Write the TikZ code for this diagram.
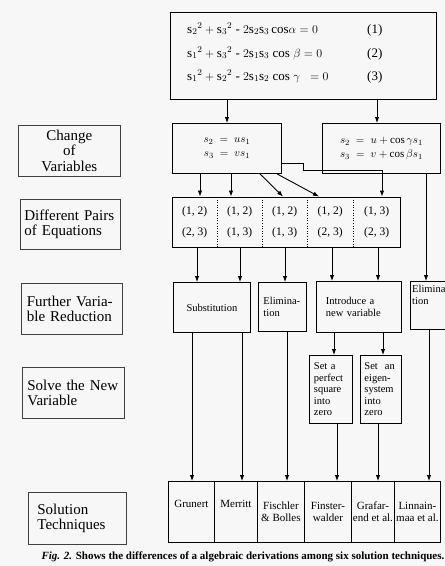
\documentclass[tikz,border=0pt]{standalone}
\usepackage{fontspec}
\setmainfont{Liberation Serif}
\usetikzlibrary{arrows.meta,fit,calc}
\begin{document}
\begin{tikzpicture}[x=1pt,y=-1pt,
  box/.style={draw, line width=0.9pt, inner sep=0pt, anchor=north west, align=center},
  lab/.style={draw=black!75, line width=0.8pt, inner sep=0pt, anchor=north west, align=left, font=\fontsize{15}{15.5}\selectfont},
  arr/.style={line width=0.9pt, -{Latex[length=6pt,width=4.5pt]}},
  ln/.style={line width=0.9pt},
  eq/.style={anchor=base west, inner sep=0pt, font=\fontsize{13}{14}\selectfont},
  pcell/.style={inner sep=0pt, anchor=north west, align=center, minimum height=50pt, font=\fontsize{11.5}{21}\selectfont},
  bcell/.style={box, minimum height=61pt, font=\fontsize{11}{12}\selectfont},
  small/.style={font=\fontsize{10.5}{12}\selectfont}
]
\fill[black!3] (0,0) rectangle (445,566);
\useasboundingbox (0,0) rectangle (445,566);
\clip (0,0) rectangle (445,566);

% top equations
\node[box, minimum width=266pt, minimum height=87pt] (top) at (170,12) {};
\node[eq] (e1) at (187,33) {$\mathrm{s}_2{}^2+\mathrm{s}_3{}^2$ - $2\mathrm{s}_2\mathrm{s}_3\,\mathrm{cos}\alpha = 0$};
\node[eq] (e2) at (187,57) {$\mathrm{s}_1{}^2+\mathrm{s}_3{}^2$ - $2\mathrm{s}_1\mathrm{s}_3\;\mathrm{cos}\;\beta = 0$};
\node[eq] (e3) at (187,80) {$\mathrm{s}_1{}^2+\mathrm{s}_2{}^2$ - $2\mathrm{s}_1\mathrm{s}_2\;\mathrm{cos}\;\gamma\;\; = 0$};
\node[eq] (n1) at (367,33) {(1)};
\node[eq] (n2) at (367,57) {(2)};
\node[eq] (n3) at (367,80) {(3)};

% change of variables
\node[box, minimum width=109pt, minimum height=50pt, font=\fontsize{11}{14}\selectfont] (mid) at (172,123) {$s_2\;=\;us_1$\\$s_3\;=\;vs_1$};
\node[box, minimum width=118pt, minimum height=50pt, font=\fontsize{11}{14}\selectfont] (rgt) at (322,123) {$s_2\;=\;u+\cos\gamma s_1$\\$s_3\;=\;v+\cos\beta s_1$\hspace{6pt}};
\draw[arr] (top.south -| 227,0) -- (mid.north -| 227,0);
\draw[arr] (top.south -| 377,0) -- (rgt.north -| 377,0);

% pairs
\node[pcell, minimum width=45pt] (c1) at (172,197) {(1, 2)\\(2, 3)};
\node[pcell, minimum width=45pt] (c2) at (217,197) {(1, 2)\\(1, 3)};
\node[pcell, minimum width=45pt] (c3) at (262,197) {(1, 2)\\(1, 3)};
\node[pcell, minimum width=46pt] (c4) at (307,197) {(1, 2)\\(2, 3)};
\node[pcell, minimum width=47pt] (c5) at (353,197) {(1, 3)\\(2, 3)};
\node[draw, line width=0.9pt, inner sep=0pt, fit=(c1)(c5)] (pairs) {};
\foreach \c in {c1,c2,c3,c4} \draw[dotted, line width=0.6pt] (\c.north east) -- (\c.south east);

\draw[arr] (mid.south -| 200,0) -- (pairs.north -| 200,0);
\draw[arr] (mid.south -| 231,0) -- (pairs.north -| 231,0);
\draw[arr] (mid.south -| 260,0) -- (pairs.north -| 283,0);
\draw[arr] (mid.south -| 277,0) -- (pairs.north -| 319,0);
\coordinate (k1) at (303,163);
\coordinate (k2) at (303,170);
\coordinate (k3) at (382,170);
\draw[arr] (mid.east |- k1) -- (k1) -- (k2) -- (k3) -- (pairs.north -| k3);

% further reduction
\node[box, minimum width=77pt, minimum height=50pt, small] (subst) at (173,282) {Substitution};
\node[box, minimum width=48pt, minimum height=49pt, small, align=left, text width=38pt] (elim1) at (258,282) {Elimina-\\tion};
\node[box, minimum width=85pt, minimum height=51pt, small, align=left, text width=66pt] (intro) at (316,281) {Introduce a\\new variable};
\node[draw, line width=0.9pt, inner sep=0pt, anchor=north west, minimum width=45pt, minimum height=48pt] (elim2) at (410,281) {};
\node[anchor=north west, inner sep=0pt, small, align=left] (elim2t) at (412,285) {Elimina-\\tion};

\draw[arr] (pairs.south -| 197,0) -- (subst.north -| 197,0);
\draw[arr] (pairs.south -| 240,0) -- (subst.north -| 240,0);
\draw[arr] (pairs.south -| 285,0) -- (elim1.north -| 285,0);
\draw[arr] (pairs.south -| 332,0) -- (intro.north -| 332,0);
\draw[arr] (pairs.south -| 378,0) -- (intro.north -| 378,0);
\draw[arr] (rgt.south -| 426,0) -- (elim2.north -| 426,0);

% solve new variable
\node[box, minimum width=43pt, minimum height=68pt, align=left, text width=34pt, font=\fontsize{10.5}{11.5}\selectfont] (set1) at (309,355) {Set a\\perfect\\square\\into\\zero};
\node[box, minimum width=41pt, minimum height=68pt, align=left, text width=33pt, font=\fontsize{10.5}{11.5}\selectfont] (set2) at (360,355) {Set\ \ an\\eigen-\\system\\into\\zero};
\draw[arr] (intro.south -| 334,0) -- (set1.north -| 334,0);
\draw[arr] (intro.south -| 383,0) -- (set2.north -| 383,0);

% solution techniques
\node[bcell, minimum width=46pt] (g1) at (168,481) {Grunert\\\strut};
\node[bcell, minimum width=43pt] (g2) at (214,481) {Merritt\\\strut};
\node[bcell, minimum width=47pt] (g3) at (257,481) {Fischler\\\& Bolles};
\node[bcell, minimum width=47pt] (g4) at (304,481) {Finster-\\walder};
\node[bcell, minimum width=43pt] (g5) at (351,481) {Grafar-\\end et al.};
\node[bcell, minimum width=46pt] (g6) at (394,481) {Linnain-\\maa et al.};

\draw[arr] (subst.south -| 192,0) -- (g1.north -| 192,0);
\draw[arr] (subst.south -| 242,0) -- (g2.north -| 242,0);
\draw[arr] (elim1.south -| 287,0) -- (g3.north -| 287,0);
\draw[arr] (set1.south -| 337,0) -- (g4.north -| 337,0);
\draw[arr] (set2.south -| 378,0) -- (g5.north -| 378,0);
\draw[arr] (elim2.south -| 429,0) -- (g6.north -| 429,0);

% left labels
\node[lab, minimum width=102pt, minimum height=51pt, align=center] (L1) at (18,125) {Change\\of\\Variables};
\node[lab, minimum width=100pt, minimum height=50pt, text width=92pt] (L2) at (20,199) {Different Pairs\\of Equations};
\node[lab, minimum width=101pt, minimum height=51pt, text width=90pt] (L3) at (21,283) {Further Varia-\\ble Reduction};
\node[lab, minimum width=102pt, minimum height=51pt, text width=92pt] (L4) at (22,367) {Solve the New\\Variable};
\node[lab, minimum width=98pt, minimum height=52pt, text width=80pt] (L5) at (28,492) {Solution\\Techniques};

% caption
\node[inner sep=0pt, font=\fontsize{11}{13}\selectfont\bfseries] (cap) at (243,557) {\textit{Fig. 2.} Shows the differences of a algebraic derivations among six solution techniques.};
\end{tikzpicture}
\end{document}
